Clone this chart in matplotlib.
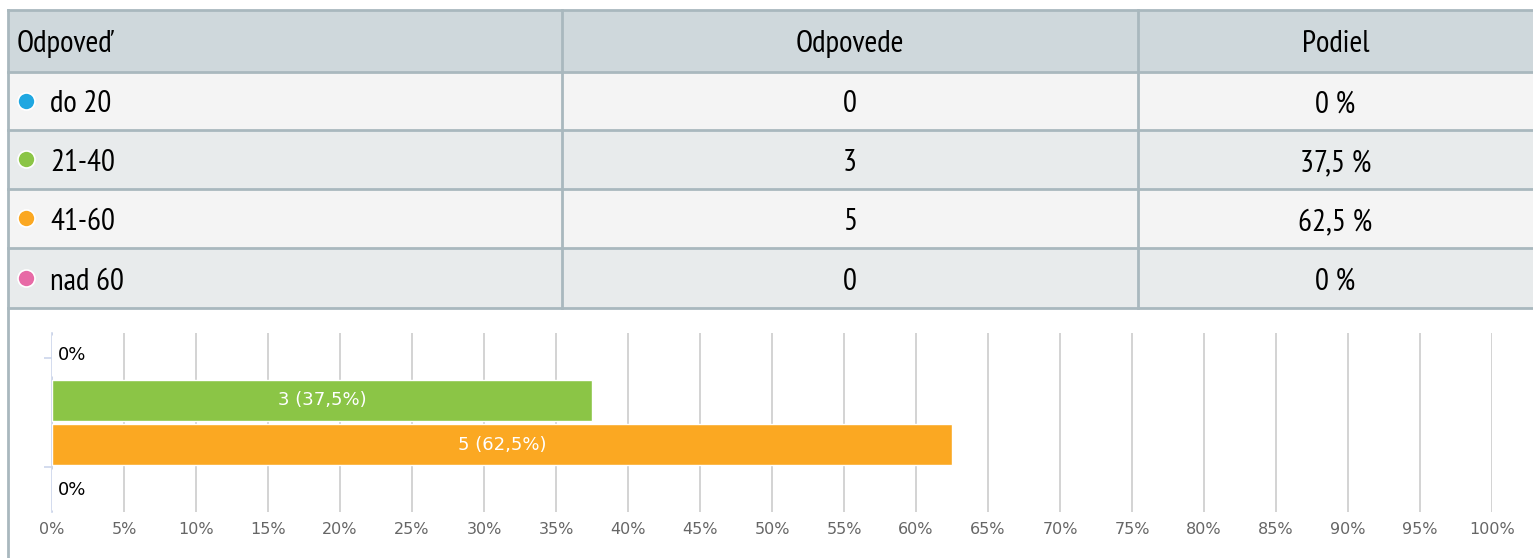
import matplotlib
matplotlib.use("Agg")
import matplotlib.pyplot as plt
from matplotlib.patches import Rectangle

# data
categories = ["do 20", "21-40", "41-60", "nad 60"]
counts = [0, 3, 5, 0]
shares = [0, 37.5, 62.5, 0]
colors = ["#1fa7e1", "#8bc546", "#fba822", "#e76aa6"]
headers = ["Odpoveď", "Odpovede", "Podiel"]
xticks = list(range(0, 101, 5))

W, H = 1533, 558
fig = plt.figure(figsize=(W / 100, H / 100), dpi=100)
fig.patch.set_facecolor("white")

tfont = ["PT Sans Narrow", "Roboto Condensed", "DejaVu Sans"]
cfont = ["DejaVu Sans"]
TS = 22.3  # table font size


def fmt_share(v, sep=" "):
    s = ("%g" % v).replace(".", ",")
    return s + sep + "%"


# ---- table (pixel coords) ----
ax = fig.add_axes([0, 0, 1, 1])
ax.set_xlim(0, W)
ax.set_ylim(H, 0)
ax.axis("off")

left, c1, c2, right = 8, 562, 1138, W
row_y = [10, 72, 130, 189, 248, 308]
line_c = "#a9b8be"
bgs = ["#cfd8dc", "#f4f4f4", "#e8ebec", "#f4f4f4", "#e8ebec"]

for i in range(5):
    ax.add_patch(Rectangle((left, row_y[i]), right - left, row_y[i + 1] - row_y[i],
                           facecolor=bgs[i], edgecolor="none", zorder=1))
for y in row_y:
    ax.plot([left, right], [y, y], color=line_c, lw=2, zorder=2)
for x in [c1, c2]:
    ax.plot([x, x], [row_y[0], row_y[-1]], color=line_c, lw=2, zorder=2)
ax.plot([left, left], [row_y[0], H], color=line_c, lw=2, zorder=2)

base = lambda i: (row_y[i] + row_y[i + 1]) / 2 + 11.5
ax.text(17, base(0), headers[0], fontsize=TS, family=tfont, va="baseline", ha="left", zorder=3)
ax.text((c1 + c2) / 2, base(0), headers[1], fontsize=TS, family=tfont, va="baseline", ha="center", zorder=3)
ax.text((c2 + right) / 2, base(0), headers[2], fontsize=TS, family=tfont, va="baseline", ha="center", zorder=3)

for i, cat in enumerate(categories):
    y = base(i + 1)
    ax.scatter([26], [(row_y[i + 1] + row_y[i + 2]) / 2 - 0.5], s=150, color=colors[i],
               edgecolor="white", linewidth=1.2, zorder=4)
    ax.text(50, y, cat, fontsize=TS, family=tfont, va="baseline", ha="left", zorder=3)
    ax.text((c1 + c2) / 2, y, str(counts[i]), fontsize=TS, family=tfont, va="baseline", ha="center", zorder=3)
    ax.text((c2 + right) / 2, y, fmt_share(shares[i]), fontsize=TS, family=tfont, va="baseline", ha="center", zorder=3)

# ---- bar chart ----
px0, px1, py0, py1 = 52, 1492, 333, 512
bx = fig.add_axes([px0 / W, 1 - py1 / H, (px1 - px0) / W, (py1 - py0) / H])
bx.set_facecolor("none")
ypos = list(range(len(categories)))
bx.barh(ypos, shares, height=0.92, color=colors, edgecolor="white", linewidth=1, zorder=3)
bx.set_xlim(0, 100)
bx.set_ylim(len(categories) - 0.5, -0.5)
bx.set_xticks(xticks)
bx.set_xticklabels([f"{t}%" for t in xticks], fontsize=11.5, color="#666666", family=cfont)
bx.tick_params(axis="x", length=0, pad=7)
bx.grid(axis="x", color="#cccccc", lw=1.2, zorder=0)
bx.set_yticks([0.06, 2.5])
bx.set_yticklabels([])
bx.tick_params(axis="y", length=6, color="#ccd6eb", width=1.2)
for s in ["top", "right", "bottom"]:
    bx.spines[s].set_visible(False)
bx.spines["left"].set_color("#ccd6eb")
bx.spines["left"].set_linewidth(1.2)

for i in ypos:
    if shares[i] == 0:
        bx.text(0.4, i, "0%", fontsize=13, family=cfont, color="black", va="center", ha="left", zorder=4)
    else:
        bx.text(shares[i] / 2, i, f"{counts[i]} ({fmt_share(shares[i], '')})", fontsize=13,
                family=cfont, color="white", va="center", ha="center", zorder=4)

fig.savefig("out.png", dpi=100)
